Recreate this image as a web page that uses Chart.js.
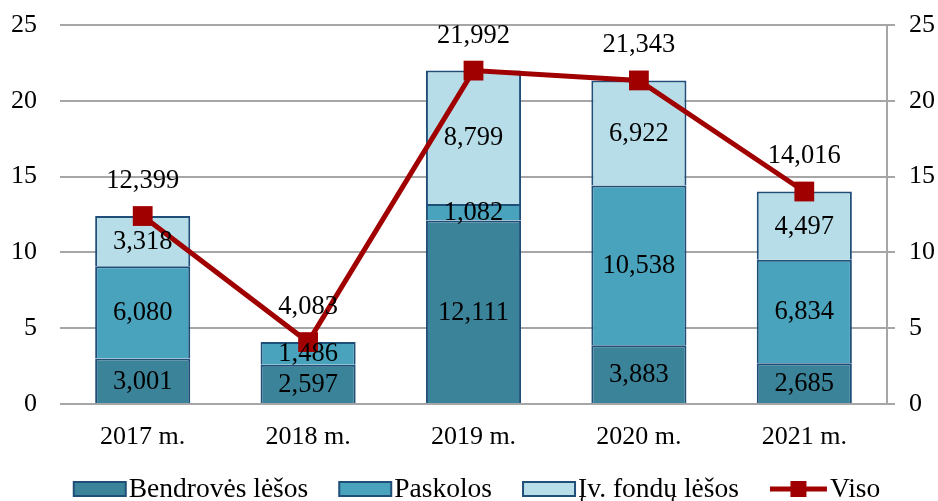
<!DOCTYPE html>
<html>
<head>
<meta charset="utf-8">
<script src="https://cdn.jsdelivr.net/npm/chart.js@4/dist/chart.umd.min.js"></script>
<style>
html,body{margin:0;padding:0;background:#fff;}
#wrap{width:938px;height:501px;}
</style>
</head>
<body>
<div id="wrap"><canvas id="c" width="938" height="501"></canvas></div>
<script>
const categories = ['2017 m.', '2018 m.', '2019 m.', '2020 m.', '2021 m.'];
const bendroves = [3.001, 2.597, 12.111, 3.883, 2.685];
const paskolos = [6.080, 1.486, 1.082, 10.538, 6.834];
const fondu = [3.318, 0, 8.799, 6.922, 4.497];
const viso = [12.399, 4.083, 21.992, 21.343, 14.016];
const yTicks = [0, 5, 10, 15, 20, 25];
const seriesNames = ['Bendrovės lėšos', 'Paskolos', 'Įv. fondų lėšos', 'Viso'];

const FONT = '"Liberation Serif", "Times New Roman", serif';
const C1 = '#3b8399', C2 = '#4aa3bc', C3 = '#b7dee8', CL = '#a00000', CB = '#1f4e79';
const fmt = v => v.toFixed(3).replace('.', ',');

const labelPlugin = {
  id: 'labels',
  afterDatasetsDraw(chart) {
    const ctx = chart.ctx;
    ctx.save();
    ctx.font = '26.5px ' + FONT;
    ctx.fillStyle = '#000';
    ctx.textAlign = 'center';
    ctx.textBaseline = 'middle';
    chart.data.datasets.forEach((ds, di) => {
      const meta = chart.getDatasetMeta(di);
      meta.data.forEach((el, i) => {
        const v = ds.data[i];
        if (!v) return;
        if (ds.type === 'line') {
          ctx.fillText(fmt(v), el.x, el.y - 35);
        } else {
          const p = el.getProps(['x', 'y', 'base'], true);
          ctx.fillText(fmt(v), p.x, (p.y + p.base) / 2 + 1);
        }
      });
    });
    ctx.restore();
  },
  afterDraw(chart) {
    const ctx = chart.ctx;
    ctx.save();
    ctx.font = '27.5px ' + FONT;
    ctx.textBaseline = 'middle';
    const colors = [C1, C2, C3];
    const boxW = 52, boxH = 14, gap = 3, itemGap = 31, lineW = 57;
    const widths = seriesNames.map((n, i) => (i < 3 ? boxW : lineW) + gap + ctx.measureText(n).width);
    const total = widths.reduce((a, b) => a + b, 0) + itemGap * (seriesNames.length - 1);
    let x = 477 - total / 2;
    const yc = 489;
    seriesNames.forEach((n, i) => {
      if (i < 3) {
        ctx.fillStyle = colors[i];
        ctx.fillRect(x, yc - boxH / 2, boxW, boxH);
        ctx.strokeStyle = CB;
        ctx.lineWidth = 2;
        ctx.strokeRect(x, yc - boxH / 2, boxW, boxH);
        x += boxW + gap;
      } else {
        ctx.strokeStyle = CL;
        ctx.lineWidth = 5;
        ctx.beginPath();
        ctx.moveTo(x, yc);
        ctx.lineTo(x + lineW, yc);
        ctx.stroke();
        ctx.fillStyle = CL;
        ctx.fillRect(x + lineW / 2 - 8, yc - 8, 16, 16);
        x += lineW + gap;
      }
      ctx.fillStyle = '#000';
      ctx.textAlign = 'left';
      ctx.fillText(n, x, yc + 1);
      x += ctx.measureText(n).width + itemGap;
    });
    ctx.restore();
  }
};

const tickCb = v => yTicks.includes(v) ? String(v) : '';
const fixV = w => s => { s.width = w; s.paddingTop = 0; s.paddingBottom = 0; };

new Chart(document.getElementById('c'), {
  data: {
    labels: categories,
    datasets: [
      { type: 'line', label: seriesNames[3], data: viso, yAxisID: 'y1', order: 0,
        borderColor: CL, backgroundColor: CL, borderWidth: 5, pointStyle: 'rect',
        pointRadius: 14, pointBorderWidth: 0, pointBackgroundColor: CL, tension: 0 },
      { type: 'bar', label: seriesNames[0], data: bendroves, yAxisID: 'y', order: 1,
        backgroundColor: C1, borderColor: CB, borderWidth: 2 },
      { type: 'bar', label: seriesNames[1], data: paskolos, yAxisID: 'y', order: 1,
        backgroundColor: C2, borderColor: CB, borderWidth: 2 },
      { type: 'bar', label: seriesNames[2], data: fondu, yAxisID: 'y', order: 1,
        backgroundColor: C3, borderColor: CB, borderWidth: 2 }
    ]
  },
  options: {
    responsive: false,
    animation: false,
    datasets: { bar: { barPercentage: 0.575, categoryPercentage: 1 } },
    layout: { padding: { top: 25, bottom: 40, left: 0, right: 0 } },
    plugins: { legend: { display: false }, tooltip: { enabled: false } },
    scales: {
      x: {
        stacked: true,
        grid: { display: false, drawTicks: false },
        border: { display: false },
        ticks: { color: '#000', font: { family: FONT, size: 26 }, padding: 18 },
        afterFit(s) { s.height = 57; s.paddingLeft = 0; s.paddingRight = 0; }
      },
      y: {
        stacked: true, min: 0, max: 25,
        position: 'left',
        grid: { color: '#a6a6a6', lineWidth: 2, drawTicks: false },
        border: { display: false },
        ticks: { stepSize: 5, color: '#000', font: { family: FONT, size: 26 }, padding: 23, callback: tickCb },
        afterFit: fixV(60)
      },
      y1: {
        min: 0, max: 25,
        position: 'right',
        grid: { drawOnChartArea: false, drawTicks: true, tickLength: 8, color: '#a6a6a6', lineWidth: 2 },
        border: { display: true, color: '#a6a6a6', width: 2 },
        ticks: { stepSize: 5, color: '#000', font: { family: FONT, size: 26 }, padding: 14, callback: tickCb },
        afterFit: fixV(51)
      }
    }
  },
  plugins: [labelPlugin]
});
</script>
</body>
</html>
